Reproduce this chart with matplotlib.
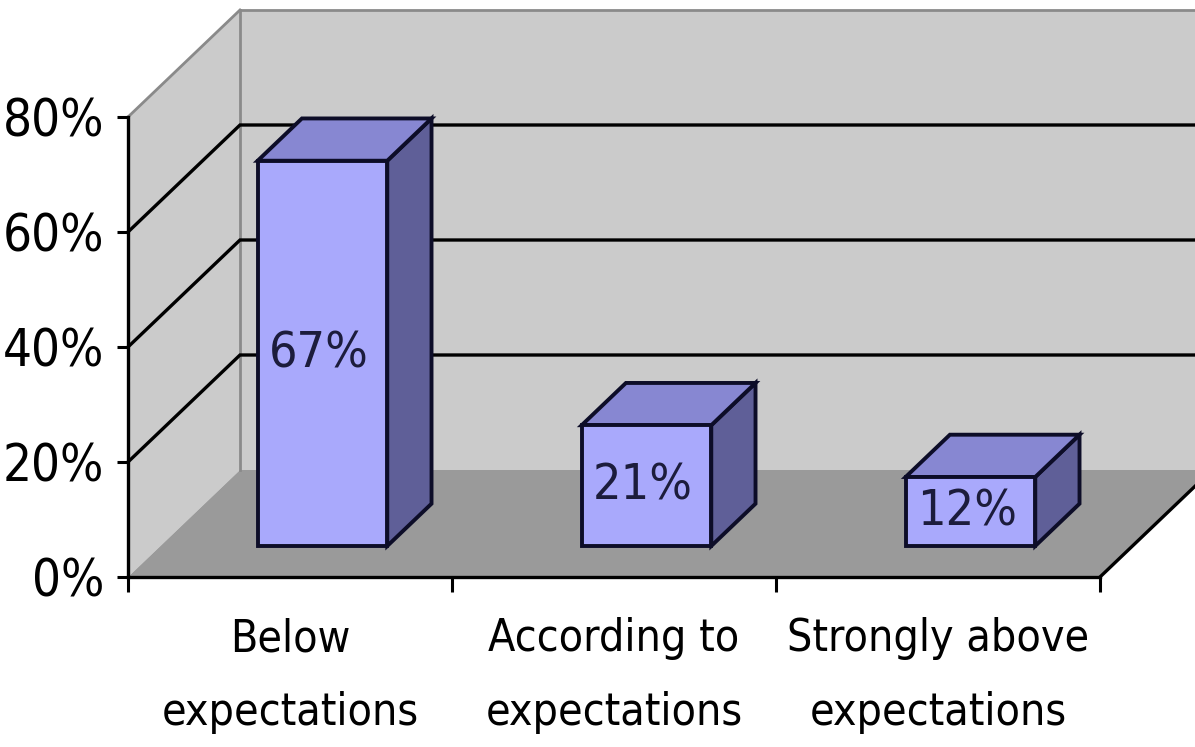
import matplotlib.pyplot as plt
from matplotlib.patches import Polygon

plt.rcParams['font.family'] = ['DejaVu Sans']
plt.rcParams['font.stretch'] = 'condensed'

categories = ['Below\nexpectations', 'According to\nexpectations', 'Strongly above\nexpectations']
values = [67, 21, 12]
yticks = [0, 20, 40, 60, 80]

# oblique depth: one full unit of depth moves this far in data units
DEPTH_X = 112 / 324
DEPTH_Y = 107 / 5.75
BAR_FRONT, BAR_BACK = 0.29, 0.685
BAR_W = 0.4


def proj(x, y, d):
    return (x + DEPTH_X * d, y + DEPTH_Y * d)


fig = plt.figure(figsize=(11.95, 7.47), dpi=100)
ax = fig.add_axes([128 / 1195, 170 / 747, 972 / 1195, 460 / 747])
ax.set_xlim(0, 3)
ax.set_ylim(0, 80)
ax.patch.set_visible(False)

wall = '#cbcbcb'
floor = '#9a9a9a'
border = '#8a8a8a'

# walls and floor
ax.add_patch(Polygon([proj(0, 0, 1), proj(3, 0, 1), proj(3, 80, 1), proj(0, 80, 1)],
                     closed=True, fc=wall, ec='none', zorder=0, clip_on=False))
ax.add_patch(Polygon([proj(0, 0, 0), proj(0, 0, 1), proj(0, 80, 1), proj(0, 80, 0)],
                     closed=True, fc=wall, ec='none', zorder=0, clip_on=False))
ax.add_patch(Polygon([proj(0, 0, 0), proj(3, 0, 0), proj(3, 0, 1), proj(0, 0, 1)],
                     closed=True, fc=floor, ec='none', zorder=0.5, clip_on=False))

# wall edges
for a, b in [((0, 80, 0), (0, 80, 1)), ((0, 80, 1), (3, 80, 1)), ((0, 0, 1), (0, 80, 1))]:
    p, q = proj(*a), proj(*b)
    ax.plot([p[0], q[0]], [p[1], q[1]], color=border, lw=2, zorder=0.8, clip_on=False)

# gridlines on side and back wall
for v in yticks[1:-1]:
    pts = [proj(0, v, 0), proj(0, v, 1), proj(3, v, 1)]
    ax.plot([p[0] for p in pts], [p[1] for p in pts], color='black', lw=2.4,
            zorder=1, clip_on=False, solid_joinstyle='miter')

# right edge of the floor
p, q = proj(3, 0, 0), proj(3, 0, 1)
ax.plot([p[0], q[0]], [p[1], q[1]], color='black', lw=2.4, zorder=1, clip_on=False)

# bars
front_c, top_c, side_c, edge_c = '#a9a9fc', '#8787d2', '#5f5f98', '#0d0d28'
for i, v in enumerate(values):
    x0 = i + 0.5 - BAR_W / 2
    x1 = i + 0.5 + BAR_W / 2
    f, b = BAR_FRONT, BAR_BACK
    side = [proj(x1, 0, f), proj(x1, 0, b), proj(x1, v, b), proj(x1, v, f)]
    top = [proj(x0, v, f), proj(x1, v, f), proj(x1, v, b), proj(x0, v, b)]
    front = [proj(x0, 0, f), proj(x1, 0, f), proj(x1, v, f), proj(x0, v, f)]
    for poly, c in [(side, side_c), (top, top_c), (front, front_c)]:
        ax.add_patch(Polygon(poly, closed=True, fc=c, ec=edge_c, lw=2.8,
                             joinstyle='miter', zorder=3 + i, clip_on=False))
    cx, cy = proj(i + 0.5, v / 2, f)
    ax.text(cx - 0.01, cy, f'{v}%', ha='center', va='center', fontsize=36,
            color='#1c1c3c', zorder=4 + i)

# axes
for s in ['top', 'right']:
    ax.spines[s].set_visible(False)
for s in ['left', 'bottom']:
    ax.spines[s].set_linewidth(2.4)
    ax.spines[s].set_zorder(2)

ax.set_yticks(yticks, labels=[f'{t}%' for t in yticks])
ax.tick_params(axis='y', length=8, width=2.2, pad=9, labelsize=36.5)
ax.set_xticks([0, 1, 2, 3], labels=[])
ax.tick_params(axis='x', which='major', length=11, width=2.2)
ax.set_xticks([0.5, 1.5, 2.5], labels=categories, minor=True)
ax.tick_params(axis='x', which='minor', length=0, pad=29, labelsize=32)
for lab in ax.get_xticklabels(minor=True):
    lab.set_linespacing(1.9)

fig.savefig('out.png', dpi=100)
